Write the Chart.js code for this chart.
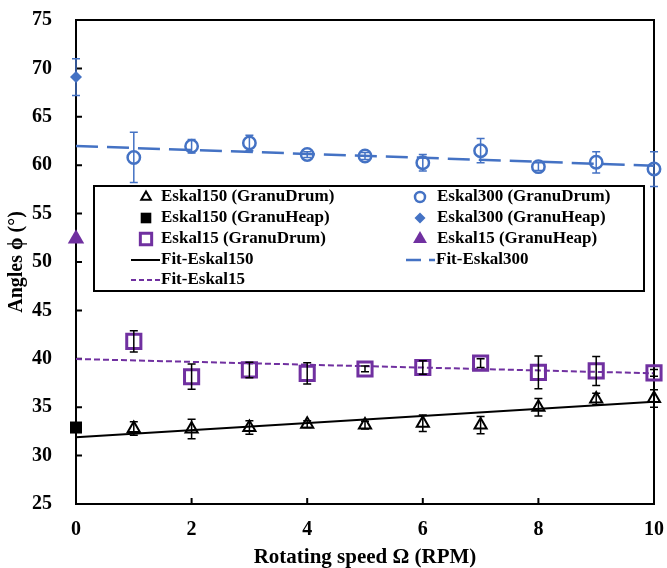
<!DOCTYPE html>
<html><head><meta charset="utf-8">
<script src="https://cdn.jsdelivr.net/npm/chart.js@4"></script>
<style>html,body{margin:0;padding:0;background:#fff}#wrap{width:667px;height:568px}</style>
</head><body><div id="wrap"><canvas id="c" width="667" height="568"></canvas></div>
<script>
// ---- data ----
const speeds = [1, 2, 3, 4, 5, 6, 7, 8, 9, 10];
const eskal150Drum = [32.8, 32.75, 32.9, 33.25, 33.15, 33.35, 33.15, 35.0, 35.85, 35.9];
const eskal150DrumErr = [0.7, 1.0, 0.7, 0.35, 0.4, 0.85, 0.9, 0.9, 0.6, 0.9];
const eskal300Drum = [60.8, 61.95, 62.3, 61.1, 60.95, 60.25, 61.5, 59.85, 60.3, 59.6];
const eskal300DrumErr = [2.6, 0.7, 0.8, 0.3, 0.35, 0.85, 1.25, 0.4, 1.1, 1.8];
const eskal15Drum = [41.8, 38.15, 38.85, 38.5, 38.95, 39.1, 39.55, 38.6, 38.75, 38.55];
const eskal15DrumErr = [1.1, 1.3, 0.8, 1.1, 0.3, 0.7, 0.45, 1.7, 1.5, 0.35];
const heapSpeed = [0];
const eskal150Heap = [32.9];
const eskal300Heap = [69.1];
const eskal300HeapErr = [1.9];
const eskal15Heap = [52.4];
const fitSpeeds = [0, 10];
const fitEskal150 = [31.9, 35.57];
const fitEskal300 = [61.98, 59.95];
const fitEskal15 = [39.98, 38.5];
const xTicks = [0, 2, 4, 6, 8, 10];
const yTicks = [25, 30, 35, 40, 45, 50, 55, 60, 65, 70, 75];

const BLUE = '#4472C4', PURPLE = '#7030A0', BLACK = '#000000';
const FONT = 'Liberation Serif';

function pts(xs, ys) { return xs.map((x, i) => ({x: x, y: ys[i]})); }

const datasets = [
  {label:'Fit-Eskal150', data: pts(fitSpeeds, fitEskal150), showLine:true, borderColor:BLACK, borderWidth:2, pointRadius:0, clip:false, order:5},
  {label:'Fit-Eskal300', data: pts(fitSpeeds, fitEskal300), showLine:true, borderColor:BLUE, borderWidth:2.5, borderDash:[22,9], pointRadius:0, clip:false, order:5},
  {label:'Fit-Eskal15', data: pts(fitSpeeds, fitEskal15), showLine:true, borderColor:PURPLE, borderWidth:2, borderDash:[6,3], pointRadius:0, clip:false, order:5},
  {label:'Eskal150 (GranuDrum)', data: pts(speeds, eskal150Drum), err: eskal150DrumErr, errColor:BLACK, pointStyle:'triangle', pointRadius:7, borderColor:BLACK, backgroundColor:'rgba(0,0,0,0)', borderWidth:2, clip:false, order:1},
  {label:'Eskal150 (GranuHeap)', data: pts(heapSpeed, eskal150Heap), pointStyle:'rect', pointRadius:8.5, borderColor:BLACK, backgroundColor:BLACK, borderWidth:0, clip:false, order:1},
  {label:'Eskal15 (GranuDrum)', data: pts(speeds, eskal15Drum), err: eskal15DrumErr, errColor:BLACK, pointStyle:'rect', pointRadius:10, borderColor:PURPLE, backgroundColor:'rgba(0,0,0,0)', borderWidth:3, clip:false, order:1},
  {label:'Eskal300 (GranuDrum)', data: pts(speeds, eskal300Drum), err: eskal300DrumErr, errColor:BLUE, pointStyle:'circle', pointRadius:6.2, borderColor:BLUE, backgroundColor:'rgba(0,0,0,0)', borderWidth:2.5, clip:false, order:1},
  {label:'Eskal300 (GranuHeap)', data: pts(heapSpeed, eskal300Heap), err: eskal300HeapErr, errColor:BLUE, pointStyle:'rectRot', pointRadius:6, borderColor:BLUE, backgroundColor:BLUE, borderWidth:0, clip:false, order:1},
  {label:'Eskal15 (GranuHeap)', data: pts(heapSpeed, eskal15Heap), pointStyle:'triangle', pointRadius:9.5, borderColor:PURPLE, backgroundColor:PURPLE, borderWidth:0, clip:false, order:1}
];

const framePlugin = {
  id: 'frame',
  beforeDatasetsDraw(chart) {
    const {ctx, chartArea: a, scales} = chart;
    ctx.save();
    ctx.strokeStyle = '#000';
    ctx.lineWidth = 2;
    ctx.strokeRect(a.left, a.top, a.right - a.left, a.bottom - a.top);
    ctx.beginPath();
    yTicks.forEach(v => { const y = scales.y.getPixelForValue(v); ctx.moveTo(a.left, y); ctx.lineTo(a.left + 6, y); });
    xTicks.forEach(v => { const x = scales.x.getPixelForValue(v); ctx.moveTo(x, a.bottom); ctx.lineTo(x, a.bottom - 6); });
    ctx.stroke();
    ctx.restore();
  },
  afterDatasetsDraw(chart) {
    const {ctx, scales} = chart;
    ctx.save();
    chart.data.datasets.forEach(ds => {
      if (!ds.err) return;
      ctx.strokeStyle = ds.errColor;
      ctx.lineWidth = 1.5;
      ds.data.forEach((p, i) => {
        const x = scales.x.getPixelForValue(p.x);
        const y1 = scales.y.getPixelForValue(p.y + ds.err[i]);
        const y2 = scales.y.getPixelForValue(p.y - ds.err[i]);
        ctx.beginPath();
        ctx.moveTo(x, y1); ctx.lineTo(x, y2);
        ctx.moveTo(x - 4, y1); ctx.lineTo(x + 4, y1);
        ctx.moveTo(x - 4, y2); ctx.lineTo(x + 4, y2);
        ctx.stroke();
      });
    });
    ctx.restore();
  },
  afterDraw(chart) {
    const ctx = chart.ctx;
    const ds = {};
    chart.data.datasets.forEach(d => ds[d.label] = d);
    ctx.save();
    ctx.fillStyle = '#fff';
    ctx.fillRect(94, 186, 550, 105);
    ctx.strokeStyle = '#000';
    ctx.lineWidth = 2;
    ctx.strokeRect(94, 186, 550, 105);
    const rows = [197, 218, 239, 260, 280];
    const items = [
      {l:'Eskal150 (GranuDrum)', col:0, row:0, r:5.5},
      {l:'Eskal300 (GranuDrum)', col:1, row:0, r:5},
      {l:'Eskal150 (GranuHeap)', col:0, row:1, r:7.5},
      {l:'Eskal300 (GranuHeap)', col:1, row:1, r:5.5},
      {l:'Eskal15 (GranuDrum)', col:0, row:2, r:8},
      {l:'Eskal15 (GranuHeap)', col:1, row:2, r:8},
      {l:'Fit-Eskal150', col:0, row:3, line:true},
      {l:'Fit-Eskal300', col:1, row:3, line:true},
      {l:'Fit-Eskal15', col:0, row:4, line:true}
    ];
    const markX = [146, 420], textX = [161, 437], lineX = [[131, 160], [406, 435]];
    items.forEach(it => {
      const d = ds[it.l];
      const y = rows[it.row];
      if (it.line) {
        ctx.save();
        ctx.strokeStyle = d.borderColor;
        ctx.lineWidth = d.borderWidth;
        const dash = d.borderDash ? (d.borderDash[0] > 10 ? [15, 8] : [5, 3]) : [];
        ctx.setLineDash(dash);
        ctx.beginPath();
        ctx.moveTo(lineX[it.col][0], y); ctx.lineTo(lineX[it.col][1], y);
        ctx.stroke();
        ctx.restore();
      } else {
        ctx.save();
        ctx.fillStyle = d.backgroundColor;
        ctx.strokeStyle = d.borderColor;
        ctx.lineWidth = d.borderWidth;
        Chart.helpers.drawPoint(ctx, {pointStyle: d.pointStyle, radius: it.r, rotation: 0, borderWidth: d.borderWidth}, markX[it.col], y);
        ctx.restore();
      }
      ctx.fillStyle = '#000';
      ctx.font = 'bold 17px "' + FONT + '"';
      ctx.textBaseline = 'middle';
      ctx.textAlign = 'left';
      ctx.fillText(it.l, it.line ? lineX[it.col][1] + 1 : textX[it.col], y);
    });
    ctx.restore();
  }
};

new Chart(document.getElementById('c'), {
  type: 'scatter',
  data: {datasets: datasets},
  plugins: [framePlugin],
  options: {
    responsive: false,
    animation: false,
    devicePixelRatio: 1,
    layout: {padding: {top: 20, right: 9, left: 0, bottom: 0}},
    plugins: {legend: {display: false}, tooltip: {enabled: false}},
    scales: {
      x: {
        type: 'linear', min: 0, max: 10,
        afterBuildTicks(s) { s.ticks = xTicks.map(v => ({value: v})); },
        ticks: {color: '#000', padding: 6, font: {family: FONT, size: 20, weight: 'bold'}},
        grid: {display: false}, border: {display: false},
        title: {display: true, text: 'Rotating speed Ω (RPM)', color: '#000', padding: 0, font: {family: FONT, size: 21, weight: 'bold', lineHeight: 1}},
        afterFit(s) { s.height = 64; s.paddingLeft = 0; s.paddingRight = 0; }
      },
      y: {
        type: 'linear', min: 25, max: 75,
        afterBuildTicks(s) { s.ticks = yTicks.map(v => ({value: v})); },
        ticks: {color: '#000', padding: 16, font: {family: FONT, size: 20, weight: 'bold'}},
        grid: {display: false}, border: {display: false},
        title: {display: true, text: 'Angles ϕ (°)', color: '#000', padding: {top: 7, bottom: 0}, font: {family: FONT, size: 20, weight: 'bold', lineHeight: 1}},
        afterFit(s) { s.width = 76; s.paddingTop = 0; s.paddingBottom = 0; }
      }
    }
  }
});
</script>
</body></html>
